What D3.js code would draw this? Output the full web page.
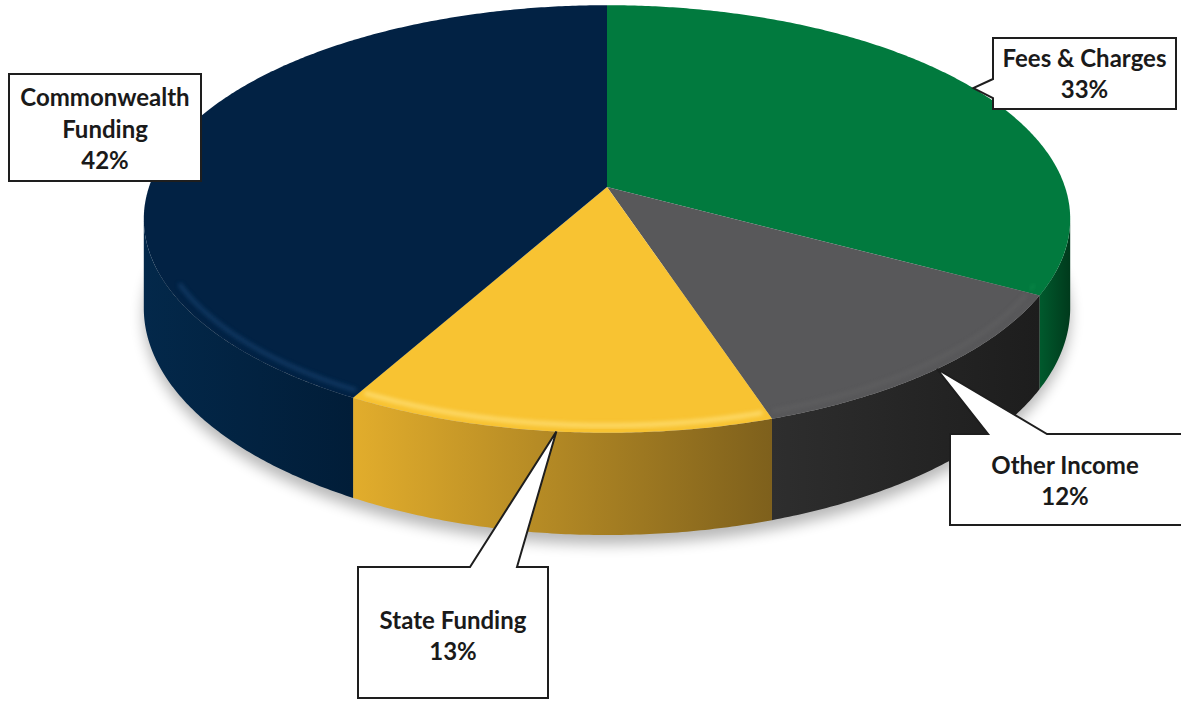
<!DOCTYPE html>
<html>
<head>
<meta charset="utf-8">
<script src="https://cdn.jsdelivr.net/npm/d3@7"></script>
<style>
  html, body { margin: 0; padding: 0; background: #fff; }
  svg { display: block; }
</style>
</head>
<body>
<svg id="chart"></svg>
<script>
const width = 1181;
const height = 701;

// data
const categories = ["Fees & Charges", "Other Income", "State Funding", "Commonwealth Funding"];
const shares = [33, 12, 13, 42];
const labelLines = [["Fees & Charges"], ["Other Income"], ["State Funding"], ["Commonwealth", "Funding"]];

// colours
const topColors = ["#017a3e", "#58585a", "#f8c332", "#022244"];
const sideColors = [["#005a2d", "#003a1c"], ["#2e2e2e", "#1d1d1d"], ["#e2ad2c", "#7e601c"], ["#03284a", "#011d38"]];
const rimColors = ["#1c9a58", "#6a6a6c", "#ffe27c", "#1f4c7c"];
const rimOpacity = [0.3, 0.35, 0.85, 0.6];

// tilted disc with a bit of perspective
const geo = { cx: 607, cy: 187, rx: 458, ry: 209, persp: 0.1495, depth: 87 };

function proj(theta, drop = 0, r = 1) {
  const u = r * Math.sin(theta);
  const v = -r * Math.cos(theta);
  const den = 1 - geo.persp * v;
  return [geo.cx + geo.rx * u / den, geo.cy + geo.ry * v / den + drop / den];
}

function arcPoints(a0, a1, drop = 0, r = 1) {
  const n = Math.max(2, Math.ceil((a1 - a0) / (Math.PI / 360)));
  return d3.range(n + 1).map(i => proj(a0 + (a1 - a0) * i / n, drop, r));
}

// callout boxes (layout only)
const callouts = [
  { x: 993, y: 38, w: 183, h: 71, side: "left", b0: 79, b1: 98, lines: [58, 89] },
  { x: 950, y: 434, w: 250, h: 91, side: "top", b0: 988, b1: 1047, lines: [465, 496], tx: 1065 },
  { x: 358, y: 567, w: 190, h: 131, side: "top", b0: 470, b1: 517, lines: [620, 651] },
  { x: 9, y: 74, w: 192, h: 107, side: "none", lines: [97, 129, 160] }
];

const svg = d3.select("#chart")
  .attr("width", width)
  .attr("height", height)
  .attr("viewBox", [0, 0, width, height]);

const defs = svg.append("defs");
defs.append("filter").attr("id", "shadowBlur")
  .attr("x", "-20%").attr("y", "-20%").attr("width", "140%").attr("height", "140%")
  .append("feGaussianBlur").attr("stdDeviation", 7);
defs.append("filter").attr("id", "rimBlur")
  .append("feGaussianBlur").attr("stdDeviation", 2.2);

sideColors.forEach((c, i) => {
  const g = defs.append("linearGradient").attr("id", "side" + i)
    .attr("x1", "0%").attr("x2", "100%").attr("y1", "0%").attr("y2", "0%");
  g.append("stop").attr("offset", "0%").attr("stop-color", c[0]);
  g.append("stop").attr("offset", "100%").attr("stop-color", c[1]);
});

const slices = d3.pie().sort(null).value(d => d)(shares);
const line = d3.line();

// visible front of the rim: between the right and left silhouette points
const tRight = Math.acos(-geo.persp);
const tLeft = 2 * Math.PI - tRight;

// soft shadow under the disc
svg.append("path")
  .attr("d", line(arcPoints(tRight - 0.2, tLeft + 0.2, geo.depth + 8)) + "Z")
  .attr("fill", "#000")
  .attr("opacity", 0.28)
  .attr("filter", "url(#shadowBlur)");

// sides
slices.forEach((s, i) => {
  const a0 = Math.max(s.startAngle, tRight);
  const a1 = Math.min(s.endAngle, tLeft);
  if (a0 >= a1) return;
  const pts = arcPoints(a0, a1, 0).concat(arcPoints(a0, a1, geo.depth).reverse());
  svg.append("path")
    .attr("d", line(pts) + "Z")
    .attr("fill", `url(#side${i})`);
});

// tops
slices.forEach((s, i) => {
  const pts = [proj(0, 0, 0)].concat(arcPoints(s.startAngle, s.endAngle));
  svg.append("path")
    .attr("d", line(pts) + "Z")
    .attr("fill", topColors[i]);
});

// bevel highlight along the front rim
const rimClip = defs.append("clipPath").attr("id", "rimClip");
rimClip.append("path")
  .attr("d", line([proj(0, 0, 0)].concat(arcPoints(0, 2 * Math.PI))) + "Z");
slices.forEach((s, i) => {
  const a0 = Math.max(s.startAngle, tRight + 0.3);
  const a1 = Math.min(s.endAngle, tLeft - 0.3);
  if (a0 >= a1) return;
  svg.append("path")
    .attr("d", line(arcPoints(a0 + 0.01, a1 - 0.01, 0, 0.975)))
    .attr("fill", "none")
    .attr("stroke", rimColors[i])
    .attr("stroke-width", 4)
    .attr("opacity", rimOpacity[i])
    .attr("clip-path", "url(#rimClip)")
    .attr("filter", "url(#rimBlur)");
});

// callouts
const fmt = d => d + "%";
callouts.forEach((c, i) => {
  const mid = (slices[i].startAngle + slices[i].endAngle) / 2;
  const tip = proj(mid);
  let pts;
  if (c.side === "left") {
    pts = [[c.x, c.y], [c.x + c.w, c.y], [c.x + c.w, c.y + c.h], [c.x, c.y + c.h],
      [c.x, c.b1], tip, [c.x, c.b0]];
  } else if (c.side === "top") {
    pts = [[c.x, c.y], [c.b0, c.y], tip, [c.b1, c.y], [c.x + c.w, c.y],
      [c.x + c.w, c.y + c.h], [c.x, c.y + c.h]];
  } else {
    pts = [[c.x, c.y], [c.x + c.w, c.y], [c.x + c.w, c.y + c.h], [c.x, c.y + c.h]];
  }
  svg.append("path")
    .attr("d", line(pts) + "Z")
    .attr("fill", "#fff")
    .attr("stroke", "#1e1e1e")
    .attr("stroke-width", 2)
    .attr("stroke-linejoin", "miter");

  const texts = labelLines[i].concat([fmt(shares[i])]);
  const tx = c.tx != null ? c.tx : c.x + c.w / 2;
  texts.forEach((t, k) => {
    svg.append("text")
      .attr("x", tx)
      .attr("y", c.lines[k])
      .attr("dy", "0.36em")
      .attr("text-anchor", "middle")
      .attr("font-family", "Lato, 'Open Sans', sans-serif")
      .attr("font-weight", "bold")
      .attr("font-size", 24)
      .attr("fill", "#1a1a1a")
      .text(t);
  });
});
</script>
</body>
</html>
